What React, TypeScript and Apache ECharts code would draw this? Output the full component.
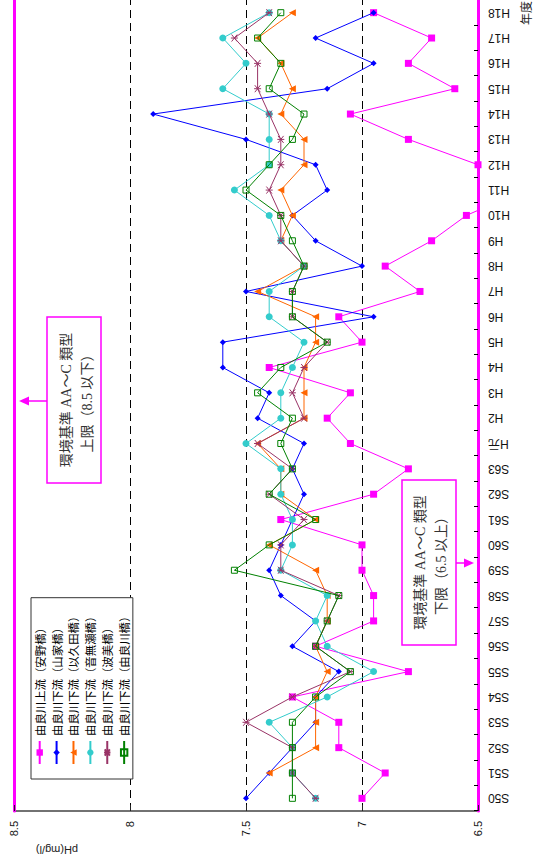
import React, { useEffect, useRef } from 'react';
import * as echarts from 'echarts';

const years = ['S50','S51','S52','S53','S54','S55','S56','S57','S58','S59','S60','S61','S62','S63','H元','H2','H3','H4','H5','H6','H7','H8','H9','H10','H11','H12','H13','H14','H15','H16','H17','H18'];

const seriesNames = ['由良川上流（安野橋）','由良川下流（山家橋）','由良川下流（以久田橋）','由良川下流（音無瀬橋）','由良川下流（波美橋）','由良川下流（由良川橋）'];

const anno = [7.00,6.90,7.10,7.10,7.30,6.80,7.20,6.95,6.95,7.00,7.00,7.35,6.95,6.80,7.05,7.15,7.05,7.40,7.00,7.10,6.75,6.90,6.70,6.55,6.30,6.50,6.80,7.05,6.60,6.80,6.70,6.95];
const yamaga = [7.50,7.40,7.30,7.20,7.20,7.10,7.30,7.20,7.35,7.40,7.35,7.30,7.25,7.30,7.25,7.45,7.40,7.60,7.60,6.95,7.50,7.00,7.20,7.30,7.15,7.20,7.50,7.90,7.15,6.95,7.20,6.95];
const ikuta = [null,7.40,7.20,7.20,7.20,7.15,7.20,7.15,7.15,7.20,7.40,7.20,7.35,7.35,7.45,7.25,7.25,7.25,7.20,7.20,7.45,7.25,7.35,7.30,7.35,7.25,7.25,7.35,7.30,7.35,7.45,7.30];
const otonase = [7.20,7.30,7.30,7.40,7.15,6.95,7.15,7.20,7.15,7.35,7.30,7.30,7.35,7.35,7.50,7.35,7.35,7.30,7.25,7.40,7.40,7.25,7.35,7.40,7.55,7.40,7.40,7.40,7.60,7.50,7.60,7.40];
const namimi = [7.20,7.30,7.30,7.50,7.30,7.05,7.20,7.15,7.10,7.35,7.35,7.25,7.40,7.30,7.45,7.25,7.30,7.25,7.15,7.30,7.30,7.25,7.35,7.35,7.40,7.35,7.35,7.40,7.45,7.45,7.55,7.40];
const yuragawa = [7.30,7.30,7.30,7.30,7.20,7.05,7.20,7.15,7.10,7.55,7.40,7.20,7.40,7.30,7.35,7.30,7.45,7.35,7.15,7.30,7.30,7.25,7.30,7.35,7.50,7.40,7.30,7.25,7.40,7.35,7.45,7.35];

const phMin = 6.5;
const phMax = 8.5;
const phInterval = 0.5;

const colors = ['#FF00FF', '#0000FF', '#FF6600', '#33CCCC', '#993366', '#008000'];
const symbols = ['rect', 'diamond', 'triangle', 'circle', 'path://M5,0L5,10M1,1L9,9M9,1L1,9', 'rect'];
const dataSets = [anno, yamaga, ikuta, otonase, namimi, yuragawa];

const annoLine1 = '環境基準 AA～C 類型';
const annoUpper = '上限（8.5 以下）';
const annoLower = '下限（6.5 以上）';

export default function App() {
  const ref = useRef<HTMLDivElement>(null);
  useEffect(() => {
    if (!ref.current) return;
    const chart = echarts.init(ref.current, null, { renderer: 'svg' });
    const magenta = '#FF00FF';
    const serifFont = "'Liberation Serif','Noto Sans CJK JP',serif";
    const itemStyleFor = (i: number) => {
      if (i === 4) return { color: colors[i], borderColor: colors[i], borderWidth: 1 };
      if (i === 5) return { color: 'rgba(255,255,255,0)', borderColor: colors[i], borderWidth: 1 };
      return { color: colors[i], borderWidth: 0 };
    };
    const option: any = {
      animation: false,
      backgroundColor: '#fff',
      grid: { left: 52, right: -3.4, top: 14, bottom: 66, containLabel: false },
      legend: {
        orient: 'vertical',
        left: 84,
        top: 31,
        padding: [3, 13, 3, 14],
        itemGap: 5.5,
        itemWidth: 23,
        itemHeight: 8,
        borderColor: '#333',
        borderWidth: 1,
        backgroundColor: '#fff',
        textStyle: { fontSize: 11.4, color: '#000', fontFamily: "'Noto Sans CJK JP',sans-serif" },
        data: seriesNames,
      },
      xAxis: [
        {
          type: 'category',
          data: years,
          position: 'bottom',
          axisLine: { show: true, lineStyle: { color: magenta, width: 3 } },
          axisTick: { show: true, inside: true, length: 4, lineStyle: { color: '#000' } },
          axisLabel: { rotate: 90, margin: 10, fontSize: 12, color: '#111', fontFamily: "'Liberation Sans','Noto Sans CJK JP',sans-serif" },
          splitLine: { show: false },
        },
        {
          type: 'category',
          data: years,
          position: 'top',
          axisLine: { show: true, lineStyle: { color: magenta, width: 3 } },
          axisTick: { show: false },
          axisLabel: { show: false },
          splitLine: { show: false },
        },
      ],
      yAxis: {
        type: 'value',
        min: phMin,
        max: phMax,
        interval: phInterval,
        axisLine: { show: true, lineStyle: { color: '#444', width: 1.5 } },
        axisTick: { show: true, inside: true, length: 6, lineStyle: { color: '#222' } },
        axisLabel: { margin: 10, fontSize: 11, color: '#111', fontFamily: "'Liberation Sans',sans-serif" },
        splitLine: { show: true, lineStyle: { color: '#000', width: 1, type: [8, 5] } },
      },
      series: dataSets.map((d, i) => ({
        name: seriesNames[i],
        type: 'line',
        data: d,
        symbol: symbols[i],
        symbolSize: i === 1 ? 6 : i === 5 ? 6 : 7,
        connectNulls: false,
        lineStyle: { color: colors[i], width: 1 },
        itemStyle: itemStyleFor(i),
        z: 2 + i,
      })),
      graphic: [
        {
          type: 'text', x: 13, y: 57, rotation: Math.PI / 2,
          style: { text: 'pH(mg/l)', fontSize: 11, fill: '#222', align: 'center', verticalAlign: 'middle', fontFamily: "'Liberation Sans',sans-serif" },
        },
        {
          type: 'text', x: 850, y: 525,
          style: { text: '年度', fontSize: 12, fill: '#222', align: 'center', verticalAlign: 'middle', fontFamily: "'Noto Sans CJK JP',sans-serif" },
        },
        // upper limit annotation
        { type: 'rect', shape: { x: 380, y: 47, width: 166, height: 54 }, style: { fill: '#fff', stroke: magenta, lineWidth: 1.5 }, z: 100 },
        { type: 'text', x: 463, y: 66, z: 101, style: { text: annoLine1, fontSize: 14, fill: '#333', align: 'center', verticalAlign: 'middle', fontFamily: serifFont } },
        { type: 'text', x: 463, y: 87, z: 101, style: { text: annoUpper, fontSize: 14, fill: '#333', align: 'center', verticalAlign: 'middle', fontFamily: serifFont } },
        { type: 'line', shape: { x1: 462, y1: 47, x2: 462, y2: 28 }, style: { stroke: magenta, lineWidth: 1.5 }, z: 100 },
        { type: 'polygon', shape: { points: [[462, 19], [457.5, 29], [466.5, 29]] }, style: { fill: magenta }, z: 100 },
        // lower limit annotation
        { type: 'rect', shape: { x: 218, y: 402, width: 165, height: 54 }, style: { fill: '#fff', stroke: magenta, lineWidth: 1.5 }, z: 100 },
        { type: 'text', x: 300.5, y: 420, z: 101, style: { text: annoLine1, fontSize: 14, fill: '#333', align: 'center', verticalAlign: 'middle', fontFamily: serifFont } },
        { type: 'text', x: 300.5, y: 441, z: 101, style: { text: annoLower, fontSize: 14, fill: '#333', align: 'center', verticalAlign: 'middle', fontFamily: serifFont } },
        { type: 'line', shape: { x1: 300, y1: 456, x2: 300, y2: 465 }, style: { stroke: magenta, lineWidth: 1.5 }, z: 100 },
        { type: 'polygon', shape: { points: [[300, 474], [295.5, 464], [304.5, 464]] }, style: { fill: magenta }, z: 100 },
      ],
    };
    chart.setOption(option);
    return () => { chart.dispose(); };
  }, []);

  return (
    <div style={{ position: 'fixed', left: 0, top: 0, width: 544, height: 863, overflow: 'hidden', background: '#fff' }}>
      <div
        ref={ref}
        style={{
          position: 'absolute',
          left: 0,
          top: 0,
          width: 863,
          height: 544,
          transformOrigin: '0 0',
          transform: 'translateY(863px) rotate(-90deg)',
        }}
      />
    </div>
  );
}
